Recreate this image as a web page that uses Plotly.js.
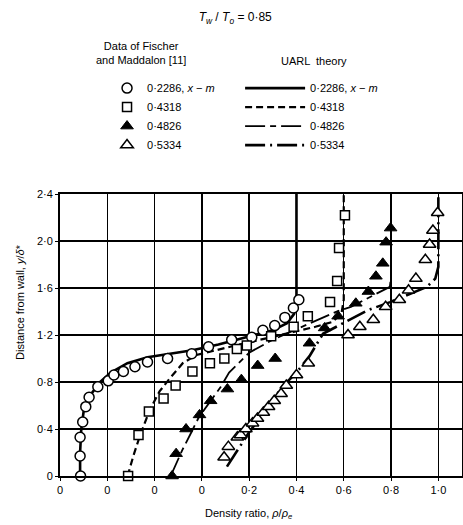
<!DOCTYPE html>
<html><head><meta charset="utf-8">
<script src="https://cdn.plot.ly/plotly-3.0.1.min.js"></script>
<style>html,body{margin:0;padding:0;background:#fff}</style>
</head><body><div id="chart" style="width:463px;height:525px"></div>
<script>
// Series labels (x position, m) and the horizontal shift of each series' own zero on the shared axis
const seriesNames = ['0·2286, <i>x</i> − <i>m</i>', '0·4318', '0·4826', '0·5334'];
const axisOffsets = [-0.6, -0.4, -0.2, 0];

// Data of Fischer and Maddalon: density ratio and y/δ*
const circleRatio = [0.087,0.085,0.085,0.096,0.109,0.123,0.160,0.204,0.228,0.268,0.317,0.370,0.455,0.557,0.628,0.726,0.811,0.858,0.908,0.951,0.987,1.010];
const circleY     = [0.00,0.17,0.33,0.46,0.59,0.67,0.76,0.81,0.86,0.89,0.93,0.97,1.00,1.04,1.10,1.16,1.18,1.24,1.28,1.35,1.43,1.50];
const squareRatio = [0.088,0.132,0.176,0.238,0.289,0.360,0.434,0.495,0.548,0.590,0.693,0.788,0.848,0.942,0.972,0.980,1.005];
const squareY     = [0.00,0.35,0.55,0.66,0.77,0.89,0.96,1.00,1.08,1.11,1.19,1.27,1.36,1.48,1.66,1.94,2.22];
const filledRatio = [0.074,0.091,0.133,0.190,0.237,0.308,0.367,0.436,0.510,0.655,0.719,0.776,0.851,0.904,0.936,0.965,0.979,0.998];
const filledY     = [0.00,0.19,0.40,0.52,0.64,0.74,0.82,0.94,1.00,1.13,1.26,1.36,1.47,1.57,1.70,1.81,1.99,2.11];
const openRatio   = [0.094,0.112,0.150,0.164,0.186,0.214,0.235,0.260,0.282,0.306,0.335,0.357,0.400,0.450,0.618,0.668,0.725,0.777,0.835,0.874,0.905,0.945,0.963,0.977,0.997];
const openY       = [0.16,0.25,0.33,0.35,0.40,0.45,0.49,0.54,0.59,0.64,0.70,0.77,0.86,0.96,1.20,1.27,1.33,1.44,1.50,1.58,1.68,1.84,1.97,2.09,2.24];

// UARL theory curves
const thCircleRatio = [0.085,0.085,0.090,0.100,0.125,0.170,0.215,0.285,0.370,0.470,0.560,0.670,0.810,0.900,0.960,0.990,1.000,1.000];
const thCircleY     = [0.00,0.20,0.40,0.55,0.68,0.80,0.88,0.96,1.01,1.04,1.07,1.12,1.19,1.24,1.30,1.38,1.50,2.40];
const thSquareRatio = [0.086,0.110,0.136,0.179,0.221,0.264,0.319,0.377,0.520,0.650,0.770,0.880,0.950,0.990,1.000,1.000];
const thSquareY     = [0.00,0.17,0.33,0.56,0.72,0.83,0.96,1.03,1.10,1.16,1.22,1.27,1.31,1.38,1.50,2.40];
const thFilledRatio = [0.068,0.117,0.155,0.187,0.230,0.280,0.315,0.357,0.400,0.500,0.613,0.770,0.830,0.910,0.960,0.995,1.000,1.000];
const thFilledY     = [0.00,0.22,0.37,0.50,0.62,0.76,0.88,0.96,1.05,1.16,1.26,1.40,1.44,1.52,1.57,1.61,1.70,2.40];
const thOpenRatio   = [0.106,0.150,0.199,0.270,0.340,0.400,0.455,0.512,0.626,0.700,0.796,0.880,0.952,0.987,1.000,1.000];
const thOpenY       = [0.08,0.22,0.37,0.56,0.76,0.88,1.02,1.21,1.33,1.41,1.48,1.55,1.61,1.68,1.78,2.40];

// Axis ticks
const xTickVals = [-0.6,-0.4,-0.2,0,0.2,0.4,0.6,0.8,1.0];
const xTickText = ['0','0','0','0','0·2','0·4','0·6','0·8','1·0'];
const yTickVals = [0,0.4,0.8,1.2,1.6,2.0,2.4];
const yTickText = ['0','0·4','0·8','1·2','1·6','2·0','2·4'];

const FONT = 'Liberation Sans, Arial, Helvetica, sans-serif';
const shift = (arr, k) => arr.map(v => v + axisOffsets[k]);

const dataSets = [[circleRatio, circleY], [squareRatio, squareY], [filledRatio, filledY], [openRatio, openY]];
const theorySets = [[thCircleRatio, thCircleY], [thSquareRatio, thSquareY], [thFilledRatio, thFilledY], [thOpenRatio, thOpenY]];
const markerStyles = [
  {symbol:'circle', size:10, color:'#fff', line:{color:'#000', width:1.5}},
  {symbol:'square', size:9, color:'#fff', line:{color:'#000', width:1.5}},
  {symbol:'triangle-up', size:11, color:'#000', line:{color:'#000', width:1}},
  {symbol:'triangle-up', size:11, color:'#fff', line:{color:'#000', width:1.5}}
];
const lineStyles = [
  {color:'#000', width:2.6, dash:'solid'},
  {color:'#000', width:2.2, dash:'7px,4px'},
  {color:'#000', width:1.8, dash:'20px,5px,6px,5px'},
  {color:'#000', width:2.6, dash:'20px,5px,2px,5px'}
];

const traces = [];
theorySets.forEach((s, k) => traces.push({
  type:'scatter', mode:'lines', x: shift(s[0], k), y: s[1], name: seriesNames[k],
  line: lineStyles[k], legend:'legend2', hoverinfo:'skip'
}));
dataSets.forEach((s, k) => traces.push({
  type:'scatter', mode:'markers', x: shift(s[0], k), y: s[1], name: seriesNames[k],
  marker: markerStyles[k], legend:'legend', cliponaxis:false
}));

const layout = {
  width:463, height:525,
  margin:{l:60, r:1, t:194, b:49},
  paper_bgcolor:'#fff', plot_bgcolor:'#fff',
  font:{family:FONT, size:11, color:'#000'},
  title:{text:'<i>T</i><sub><i>w</i></sub> / <i>T</i><sub><i>o</i></sub> = 0·85', x:0.508, xanchor:'center', y:0.968, yanchor:'middle', font:{family:FONT, size:12, color:'#000'}},
  xaxis:{range:[-0.6,1.1], tickmode:'array', tickvals:xTickVals, ticktext:xTickText,
    showgrid:true, gridcolor:'#000', gridwidth:1.4, zeroline:false,
    showline:true, mirror:true, linecolor:'#000', linewidth:2,
    ticks:'outside', ticklen:3, tickcolor:'#000', tickfont:{size:11}, fixedrange:true},
  yaxis:{range:[0,2.4], tickmode:'array', tickvals:yTickVals, ticktext:yTickText,
    showgrid:true, gridcolor:'#000', gridwidth:1.4, zeroline:false,
    showline:true, mirror:true, linecolor:'#000', linewidth:2,
    ticks:'outside', ticklen:3, tickcolor:'#000', tickfont:{size:11}, fixedrange:true},
  legend:{x:0.117, xanchor:'left', y:1.427, yanchor:'top', bgcolor:'rgba(0,0,0,0)', font:{size:11}, itemwidth:30, tracegroupgap:0},
  legend2:{x:0.448, xanchor:'left', y:1.427, yanchor:'top', bgcolor:'rgba(0,0,0,0)', font:{size:11}, itemwidth:60, tracegroupgap:0},
  annotations:[
    {text:'Data of Fischer<br>and Maddalon [11]', xref:'paper', yref:'paper', x:0.2015, y:1.50, xanchor:'center', yanchor:'middle', showarrow:false, font:{size:11}},
    {text:'UARL  theory', xref:'paper', yref:'paper', x:0.632, y:1.472, xanchor:'center', yanchor:'middle', showarrow:false, font:{size:11}},
    {text:'Distance from wall, <i>y</i>/<i>δ</i>*', xref:'paper', yref:'paper', x:-0.0995, y:0.617, xanchor:'center', yanchor:'middle', textangle:-90, showarrow:false, font:{size:11}},
    {text:'Density ratio, <i>ρ</i>/<i>ρ</i><sub><i>e</i></sub>', xref:'paper', yref:'paper', x:0.468, y:-0.135, xanchor:'center', yanchor:'middle', showarrow:false, font:{size:11}}
  ],
  showlegend:true
};
Plotly.newPlot('chart', traces, layout, {displayModeBar:false, staticPlot:true});
</script></body></html>
